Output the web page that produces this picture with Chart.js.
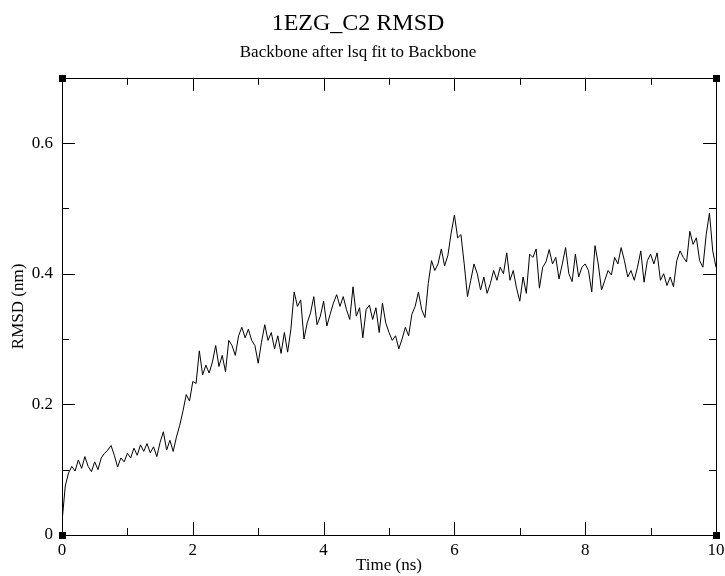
<!DOCTYPE html>
<html>
<head>
<meta charset="utf-8">
<title>1EZG_C2 RMSD</title>
<script src="https://cdn.jsdelivr.net/npm/chart.js@4/dist/chart.umd.min.js"></script>
<style>
  html, body { margin: 0; padding: 0; background: #fff; }
  #wrap { width: 725px; height: 576px; }
</style>
</head>
<body>
<div id="wrap"><canvas id="rmsdChart" width="725" height="576"></canvas></div>
<script>
// RMSD trace, one value every 0.05 ns from 0 to 10 ns
const timeStep = 0.05;
const rmsd = [
  0.020, 0.075, 0.095, 0.105, 0.098, 0.115, 0.102, 0.120, 0.105, 0.097,
  0.112, 0.100, 0.118, 0.125, 0.130, 0.137, 0.122, 0.104, 0.118, 0.112,
  0.125, 0.118, 0.133, 0.122, 0.138, 0.128, 0.140, 0.126, 0.135, 0.120,
  0.142, 0.158, 0.130, 0.145, 0.128, 0.150, 0.168, 0.190, 0.215, 0.205,
  0.235, 0.232, 0.282, 0.245, 0.260, 0.248, 0.265, 0.290, 0.258, 0.275,
  0.250, 0.298, 0.290, 0.275, 0.305, 0.318, 0.302, 0.315, 0.298, 0.290,
  0.263, 0.295, 0.322, 0.298, 0.310, 0.285, 0.305, 0.278, 0.310, 0.280,
  0.315, 0.372, 0.350, 0.360, 0.300, 0.325, 0.340, 0.365, 0.322, 0.335,
  0.358, 0.320, 0.338, 0.355, 0.368, 0.350, 0.365, 0.345, 0.330, 0.380,
  0.335, 0.348, 0.302, 0.345, 0.352, 0.330, 0.348, 0.310, 0.355, 0.325,
  0.310, 0.298, 0.305, 0.285, 0.300, 0.318, 0.305, 0.338, 0.350, 0.372,
  0.345, 0.333, 0.385, 0.420, 0.405, 0.415, 0.438, 0.412, 0.428, 0.462,
  0.490, 0.455, 0.460, 0.415, 0.365, 0.390, 0.415, 0.400, 0.375, 0.395,
  0.370, 0.385, 0.405, 0.390, 0.410, 0.400, 0.432, 0.390, 0.405, 0.378,
  0.358, 0.395, 0.370, 0.430, 0.425, 0.438, 0.378, 0.410, 0.418, 0.437,
  0.415, 0.425, 0.392, 0.415, 0.440, 0.400, 0.388, 0.430, 0.395, 0.410,
  0.415, 0.405, 0.372, 0.443, 0.415, 0.375, 0.390, 0.405, 0.398, 0.425,
  0.415, 0.440, 0.420, 0.395, 0.405, 0.390, 0.410, 0.435, 0.387, 0.420,
  0.430, 0.415, 0.432, 0.390, 0.400, 0.382, 0.395, 0.380, 0.420, 0.435,
  0.425, 0.418, 0.465, 0.445, 0.455, 0.420, 0.410, 0.460, 0.493, 0.435,
  0.410
];

const xRange = [0, 10];
const yRange = [0, 0.7];
const xLabelTicks = [0, 2, 4, 6, 8, 10];
const yLabelTicks = [0, 0.2, 0.4, 0.6];

const serif = "'Liberation Serif', 'DejaVu Serif', serif";

const points = rmsd.map((v, i) => ({ x: +(i * timeStep).toFixed(2), y: v }));

function isLabelTick(list, value) {
  return list.some(t => Math.abs(t - value) < 1e-6);
}

// Grace-style frame: box, inward ticks on all four sides, corner squares
const frameTicks = {
  id: 'frameTicks',
  afterDraw(chart) {
    const { ctx, chartArea: a, scales } = chart;
    const major = 13, minor = 7;
    ctx.save();
    ctx.strokeStyle = '#000';
    ctx.lineWidth = 1;
    ctx.strokeRect(Math.round(a.left) + 0.5, Math.round(a.top) + 0.5,
      Math.round(a.right - a.left), Math.round(a.bottom - a.top));

    ctx.beginPath();
    scales.x.ticks.forEach(t => {
      const px = Math.round(scales.x.getPixelForValue(t.value)) + 0.5;
      const len = isLabelTick(xLabelTicks, t.value) ? major : minor;
      ctx.moveTo(px, a.bottom); ctx.lineTo(px, a.bottom - len);
      ctx.moveTo(px, a.top); ctx.lineTo(px, a.top + len);
    });
    scales.y.ticks.forEach(t => {
      const py = Math.round(scales.y.getPixelForValue(t.value)) + 0.5;
      const len = isLabelTick(yLabelTicks, t.value) ? major : minor;
      ctx.moveTo(a.left, py); ctx.lineTo(a.left + len, py);
      ctx.moveTo(a.right, py); ctx.lineTo(a.right - len, py);
    });
    ctx.stroke();

    ctx.fillStyle = '#000';
    [[a.left, a.top], [a.right, a.top], [a.left, a.bottom], [a.right, a.bottom]].forEach(([cx, cy]) => {
      ctx.fillRect(Math.round(cx) - 3, Math.round(cy) - 3, 7, 7);
    });
    ctx.restore();
  }
};

const ctx = document.getElementById('rmsdChart').getContext('2d');

new Chart(ctx, {
  type: 'line',
  data: {
    datasets: [{
      label: 'RMSD',
      data: points,
      borderColor: '#000',
      borderWidth: 1,
      pointRadius: 0,
      tension: 0,
      fill: false
    }]
  },
  options: {
    responsive: false,
    animation: false,
    events: [],
    layout: { padding: { left: 0, right: 9, top: 0, bottom: 0 } },
    plugins: {
      legend: { display: false },
      tooltip: { enabled: false },
      title: {
        display: true,
        text: '1EZG_C2 RMSD',
        color: '#000',
        font: { family: serif, size: 24, weight: 'normal', lineHeight: 1.2 },
        padding: { top: 9, bottom: 5 }
      },
      subtitle: {
        display: true,
        text: 'Backbone after lsq fit to Backbone',
        color: '#000',
        font: { family: serif, size: 17, weight: 'normal', lineHeight: 1.2 },
        padding: { top: 0, bottom: 14.6 }
      }
    },
    scales: {
      x: {
        type: 'linear',
        min: xRange[0],
        max: xRange[1],
        grid: { display: false, drawTicks: false },
        border: { display: false },
        ticks: {
          stepSize: 1,
          padding: 5,
          color: '#000',
          font: { family: serif, size: 17 },
          maxRotation: 0,
          autoSkip: false,
          callback: v => isLabelTick(xLabelTicks, v) ? String(v) : ''
        },
        title: {
          display: true,
          text: 'Time (ns)',
          color: '#000',
          font: { family: serif, size: 17, lineHeight: 1.2 },
          padding: { top: 0, bottom: 0 }
        },
        afterFit(scale) {
          scale.height = 41;
          scale.paddingLeft = 0;
          scale.paddingRight = 0;
        }
      },
      y: {
        type: 'linear',
        min: yRange[0],
        max: yRange[1],
        grid: { display: false, drawTicks: false },
        border: { display: false },
        ticks: {
          stepSize: 0.1,
          padding: 9,
          color: '#000',
          font: { family: serif, size: 17 },
          autoSkip: false,
          callback: v => isLabelTick(yLabelTicks, v) ? String(+v.toFixed(1)) : ''
        },
        title: {
          display: true,
          text: 'RMSD (nm)',
          color: '#000',
          font: { family: serif, size: 17, lineHeight: 1.2 },
          padding: { top: 8, bottom: 0 }
        },
        afterFit(scale) {
          scale.width = 62;
          scale.paddingTop = 0;
          scale.paddingBottom = 0;
        }
      }
    }
  },
  plugins: [frameTicks]
});
</script>
</body>
</html>
